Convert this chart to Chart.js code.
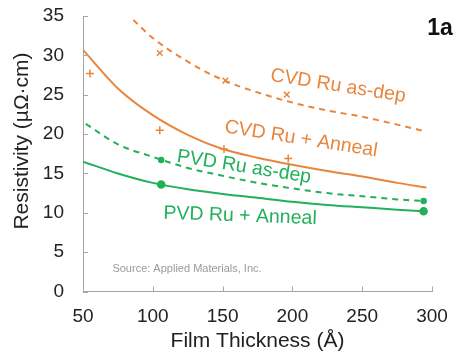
<!DOCTYPE html>
<html>
<head>
<meta charset="utf-8">
<script src="https://cdn.jsdelivr.net/npm/chart.js@4/dist/chart.umd.min.js"></script>
<style>
  html, body { margin: 0; padding: 0; background: #fff; }
</style>
</head>
<body>
<canvas id="myChart" width="457" height="356"></canvas>
<script>
// fitted curves
var cvdDepFitX = [86, 100, 125, 150, 175, 200, 225, 250, 275, 296];
var cvdDepFitY = [34.5, 32.2, 29.2, 26.9, 25.3, 24.0, 23.0, 22.2, 21.2, 20.3];
var cvdAnnFitX = [50, 75, 100, 125, 150, 175, 200, 225, 250, 275, 296];
var cvdAnnFitY = [30.7, 25.8, 22.4, 19.9, 18.1, 17.0, 16.1, 15.3, 14.6, 13.8, 13.2];
var pvdDepFitX = [52, 75, 100, 125, 150, 175, 200, 225, 250, 275, 294];
var pvdDepFitY = [21.3, 18.7, 17.1, 15.7, 14.7, 13.8, 13.1, 12.5, 12.1, 11.7, 11.5];
var pvdAnnFitX = [50, 75, 100, 125, 150, 175, 200, 225, 250, 275, 294];
var pvdAnnFitY = [16.5, 15.0, 13.8, 13.0, 12.4, 11.9, 11.4, 11.0, 10.7, 10.4, 10.2];

// measured points
var cvdDepPtsX = [105, 152, 196];
var cvdDepPtsY = [30.3, 26.8, 25.0];
var cvdAnnPtsX = [55, 105, 151, 197];
var cvdAnnPtsY = [27.7, 20.5, 18.1, 16.9];
var pvdDepPtsX = [106, 294];
var pvdDepPtsY = [16.7, 11.5];
var pvdAnnPtsX = [106, 294];
var pvdAnnPtsY = [13.6, 10.2];

var xTicks = [50, 100, 150, 200, 250, 300];
var yTicks = [0, 5, 10, 15, 20, 25, 30, 35];

var orange = '#E8863E';
var green = '#22B05A';
var axisGray = '#A6A6A6';
var fontFam = '"Liberation Sans", Arial, sans-serif';

function pts(xs, ys) {
  return xs.map(function (x, i) { return {x: x, y: ys[i]}; });
}

function fitLine(xs, ys, color, dashed) {
  return {
    data: pts(xs, ys),
    showLine: true,
    borderColor: color,
    borderWidth: 2,
    borderDash: dashed ? [6, 5] : [],
    cubicInterpolationMode: 'monotone',
    pointRadius: 0,
    fill: false
  };
}

function markers(xs, ys, color, style, r) {
  return {
    data: pts(xs, ys),
    showLine: false,
    pointStyle: style,
    pointRadius: r,
    pointBorderWidth: 1.5,
    borderColor: color,
    backgroundColor: color
  };
}

// inward ticks + the free texts
var notes = {
  id: 'notes',
  afterDraw: function (chart) {
    var ctx = chart.ctx;
    var xs = chart.scales.x, ys = chart.scales.y;
    var a = chart.chartArea;
    ctx.save();
    ctx.strokeStyle = axisGray;
    ctx.lineWidth = 1;
    ctx.beginPath();
    yTicks.forEach(function (v) {
      var y = Math.round(ys.getPixelForValue(v)) + 0.5;
      ctx.moveTo(a.left, y); ctx.lineTo(a.left + 5, y);
    });
    xTicks.forEach(function (v) {
      var x = Math.round(xs.getPixelForValue(v)) + 0.5;
      ctx.moveTo(x, a.bottom); ctx.lineTo(x, a.bottom - 5);
    });
    ctx.stroke();

    function label(txt, x, y, deg, color, font) {
      ctx.save();
      ctx.translate(x, y);
      ctx.rotate(deg * Math.PI / 180);
      ctx.fillStyle = color;
      ctx.font = font;
      ctx.textAlign = 'center';
      ctx.textBaseline = 'middle';
      ctx.fillText(txt, 0, 0);
      ctx.restore();
    }
    var f = '19.5px ' + fontFam;
    label('CVD Ru as-dep', 338, 86, 9, orange, f);
    label('CVD Ru + Anneal', 301, 139, 9, orange, f);
    label('PVD Ru as-dep', 244, 167, 9, green, f);
    label('PVD Ru + Anneal', 240, 216, 2, green, f);
    label('Source: Applied Materials, Inc.', 187, 269, 0, '#9A9A9A', '11px ' + fontFam);
    label('1a', 440, 29, 0, '#111', 'bold 23px ' + fontFam);
    label('Resistivity (\u00b5\u03a9\u00b7cm)', 22, 141, -90, '#222', '21px ' + fontFam);
    ctx.restore();
  }
};

var ctx = document.getElementById('myChart').getContext('2d');
var chart = new Chart(ctx, {
  type: 'scatter',
  data: {
    datasets: [
      fitLine(cvdDepFitX, cvdDepFitY, orange, true),
      fitLine(cvdAnnFitX, cvdAnnFitY, orange, false),
      fitLine(pvdDepFitX, pvdDepFitY, green, true),
      fitLine(pvdAnnFitX, pvdAnnFitY, green, false),
      markers(cvdDepPtsX, cvdDepPtsY, orange, 'crossRot', 4),
      markers(cvdAnnPtsX, cvdAnnPtsY, orange, 'cross', 4),
      markers(pvdDepPtsX, pvdDepPtsY, green, 'circle', 2.5),
      markers(pvdAnnPtsX, pvdAnnPtsY, green, 'circle', 3.5)
    ]
  },
  plugins: [notes],
  options: {
    responsive: false,
    animation: false,
    layout: { padding: { top: 16, right: 25, left: 0, bottom: 0 } },
    plugins: {
      legend: { display: false },
      tooltip: { enabled: false }
    },
    scales: {
      x: {
        type: 'linear',
        min: 50, max: 300,
        afterFit: function (s) { s.height = 64.5; },
        // grid hidden, tickLength only used as label offset
        grid: { display: false, drawTicks: true, tickLength: 14 },
        border: { display: true, color: axisGray, width: 1 },
        ticks: {
          stepSize: 50,
          padding: 0,
          color: '#222',
          font: { family: fontFam, size: 19 }
        },
        title: {
          display: true,
          text: 'Film Thickness (\u00c5)',
          color: '#222',
          padding: { top: 0, bottom: 2 },
          font: { family: fontFam, size: 21 }
        }
      },
      y: {
        min: 0, max: 35,
        afterFit: function (s) { s.width = 83; },
        grid: { display: false, drawTicks: true, tickLength: 19 },
        border: { display: true, color: axisGray, width: 1 },
        ticks: {
          stepSize: 5,
          padding: 0,
          color: '#222',
          font: { family: fontFam, size: 19 }
        }
      }
    }
  }
});
</script>
</body>
</html>
